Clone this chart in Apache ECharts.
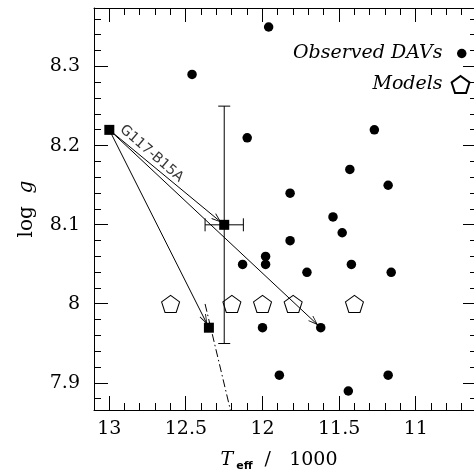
<!DOCTYPE html>
<html>
<head>
<meta charset="utf-8">
<script src="https://cdn.jsdelivr.net/npm/echarts@6/dist/echarts.min.js"></script>
<style>
  html, body { margin: 0; padding: 0; background: #fff; }
  #chart { width: 474px; height: 472px; }
</style>
</head>
<body>
<div id="chart"></div>
<script>
// Observed DAVs: effective temperature (in 1000 K) and surface gravity
const davTeff = [11.96, 12.46, 12.10, 11.27, 11.43, 11.18, 11.82, 11.54, 11.48, 11.82, 11.98,
                 11.98, 12.13, 11.42, 11.71, 11.16, 12.00, 11.62, 11.89, 11.18, 11.44];
const davLogg = [8.35, 8.29, 8.21, 8.22, 8.17, 8.15, 8.14, 8.11, 8.09, 8.08, 8.06,
                 8.05, 8.05, 8.05, 8.04, 8.04, 7.97, 7.97, 7.91, 7.91, 7.89];

// Model grid
const modelTeff = [12.6, 12.2, 12.0, 11.8, 11.4];
const modelLogg = [8.0, 8.0, 8.0, 8.0, 8.0];

// G117-B15A: starting solution and the two revised fits
const g117Teff = [13.0, 12.25, 12.35];
const g117Logg = [8.22, 8.10, 7.97];

// Arrows run from the starting solution to these points
const arrowToTeff = [12.25, 12.35, 11.62];
const arrowToLogg = [8.10, 7.97, 7.97];

// Error bars on the spectroscopic value
const errTeff = [12.375, 12.125];
const errLogg = [7.95, 8.25];

// Dash-dot track through the lower fit
const trackTeff = [12.375, 12.19];
const trackLogg = [8.0, 7.85];

// Axis ticks
const xMajor = [13, 12.5, 12, 11.5, 11];
const xMinor = [13.0, 12.9, 12.8, 12.7, 12.6, 12.5, 12.4, 12.3, 12.2, 12.1, 12.0, 11.9, 11.8,
                11.7, 11.6, 11.5, 11.4, 11.3, 11.2, 11.1, 11.0, 10.9, 10.8, 10.7];
const yMajor = [7.9, 8.0, 8.1, 8.2, 8.3];
const yMinor = [7.88, 7.90, 7.92, 7.94, 7.96, 7.98, 8.00, 8.02, 8.04, 8.06, 8.08, 8.10, 8.12,
                8.14, 8.16, 8.18, 8.20, 8.22, 8.24, 8.26, 8.28, 8.30, 8.32, 8.34, 8.36];

const X_MIN = 10.6, X_MAX = 13.1;
const Y_MIN = 7.866, Y_MAX = 8.374;
const MAJOR_LEN = 14, MINOR_LEN = 7;

const SERIF = 'DejaVu Serif';
const black = '#000';
const pentagon = 'path://M0,-1 L0.951,-0.309 L0.588,0.809 L-0.588,0.809 L-0.951,-0.309 Z';
// open arrowhead pointing up, tip 4px behind the symbol centre
const arrowHead = 'path://M-14,-18 M14,10 M0,0 L3.5,10 L2.8,10.5 L0,2.4 L-2.8,10.5 L-3.5,10 Z';

const zip = (a, b) => a.map((v, i) => [v, b[i]]);
const lineStl = { color: black, width: 1 };
const crisp = v => Math.round(v - 0.5) + 0.5;

// error bars plus the inward tick marks on all four sides of the frame,
// every position taken from the axes' scales
function renderErrorAndTicks(params, api) {
  const st = { stroke: black, lineWidth: 1, fill: null };
  const seg = (x1, y1, x2, y2) => ({ type: 'line', shape: { x1, y1, x2, y2 }, style: st });
  const t0 = api.value(0), g0 = api.value(1);
  const children = [];

  const top = api.coord([t0, api.value(5)]);
  const bot = api.coord([t0, api.value(4)]);
  const lft = api.coord([api.value(2), g0]);
  const rgt = api.coord([api.value(3), g0]);
  children.push(
    seg(top[0], top[1], bot[0], bot[1]),
    seg(top[0] - 6, top[1], top[0] + 6, top[1]),
    seg(bot[0] - 6, bot[1], bot[0] + 6, bot[1]),
    seg(lft[0], lft[1], rgt[0], rgt[1]),
    seg(lft[0], lft[1] - 6.5, lft[0], lft[1] + 6.5),
    seg(rgt[0], rgt[1] - 6.5, rgt[0], rgt[1] + 6.5)
  );

  const frameLeft = api.coord([X_MAX, g0])[0];
  const frameRight = api.coord([X_MIN, g0])[0];
  const frameTop = api.coord([t0, Y_MAX])[1];
  const frameBottom = api.coord([t0, Y_MIN])[1];
  const xTick = (v, len) => {
    const x = crisp(api.coord([v, g0])[0]);
    children.push(seg(x, frameBottom, x, frameBottom - len));
    children.push(seg(x, frameTop, x, frameTop + len));
  };
  const yTick = (v, len) => {
    const y = crisp(api.coord([t0, v])[1]);
    children.push(seg(frameLeft, y, frameLeft + len, y));
    children.push(seg(frameRight, y, frameRight - len, y));
  };
  xMinor.forEach(v => xTick(v, MINOR_LEN));
  xMajor.forEach(v => xTick(v, MAJOR_LEN));
  yMinor.forEach(v => yTick(v, MINOR_LEN));
  yMajor.forEach(v => yTick(v, MAJOR_LEN));
  return { type: 'group', children };
}

const chart = echarts.init(document.getElementById('chart'), null, { renderer: 'canvas' });

chart.setOption({
  animation: false,
  backgroundColor: '#fff',
  grid: { left: 94, top: 8, width: 383, height: 402, outerBoundsMode: 'none', containLabel: false },
  xAxis: [
    {
      type: 'value', position: 'bottom', min: X_MIN, max: X_MAX, inverse: true,
      axisLine: { show: true, onZero: false, lineStyle: lineStl },
      axisTick: { show: false },
      axisLabel: { show: true, customValues: xMajor, margin: 10, color: black,
                   fontFamily: SERIF, fontSize: 19, formatter: v => String(v) },
      splitLine: { show: false },
      name: '{i|T}{s|eff}{r|  /   1000}',
      nameLocation: 'middle',
      nameGap: 40,
      nameTextStyle: {
        padding: [0, 13, 0, 0],
        rich: {
          i: { fontFamily: SERIF, fontStyle: 'italic', fontSize: 19, color: black, lineHeight: 20 },
          s: { fontFamily: 'DejaVu Sans', fontWeight: 'bold', fontSize: 11, color: black,
               lineHeight: 12, padding: [12, 0, 0, 3] },
          r: { fontFamily: SERIF, fontSize: 19, color: black, lineHeight: 20 }
        }
      }
    },
    {
      type: 'value', position: 'top', min: X_MIN, max: X_MAX, inverse: true,
      axisLine: { show: true, onZero: false, lineStyle: lineStl },
      axisTick: { show: false },
      axisLabel: { show: false },
      splitLine: { show: false }
    }
  ],
  yAxis: [
    {
      type: 'value', position: 'left', min: Y_MIN, max: Y_MAX,
      axisLine: { show: true, onZero: false, lineStyle: lineStl },
      axisTick: { show: false },
      axisLabel: { show: true, customValues: yMajor, margin: 14, color: black,
                   fontFamily: SERIF, fontSize: 19, formatter: v => String(v) },
      splitLine: { show: false },
      name: '{r|log\u00a0\u00a0}{i|g}',
      nameLocation: 'middle',
      nameRotate: 90,
      nameGap: 57,
      nameTextStyle: {
        rich: {
          r: { fontFamily: SERIF, fontSize: 20, color: black, lineHeight: 20 },
          i: { fontFamily: SERIF, fontStyle: 'italic', fontSize: 20, color: black, lineHeight: 20 }
        }
      }
    },
    {
      type: 'value', position: 'right', min: Y_MIN, max: Y_MAX,
      axisLine: { show: true, onZero: false, lineStyle: lineStl },
      axisTick: { show: false },
      axisLabel: { show: false },
      splitLine: { show: false }
    }
  ],
  legend: [
    {
      data: ['Observed DAVs'], right: 7.5, top: 44, padding: 0, align: 'right',
      itemWidth: 28.5, itemHeight: 9.5, selectedMode: false,
      textStyle: { fontFamily: SERIF, fontStyle: 'italic', fontSize: 19, color: black, lineHeight: 18 }
    },
    {
      data: ['Models'], right: 3.5, top: 75, padding: 0, align: 'right',
      itemWidth: 26, itemHeight: 17, selectedMode: false,
      textStyle: { fontFamily: SERIF, fontStyle: 'italic', fontSize: 19, color: black, lineHeight: 18 }
    }
  ],
  series: [
    {
      name: 'track',
      type: 'line',
      data: zip(trackTeff, trackLogg),
      showSymbol: false,
      symbol: 'none',
      clip: true,
      lineStyle: { color: black, width: 1, type: [8, 3, 1.5, 3] },
      silent: true,
      z: 1
    },
    {
      name: 'arrows',
      type: 'lines',
      coordinateSystem: 'cartesian2d',
      symbol: ['none', arrowHead],
      symbolSize: 28,
      lineStyle: { color: black, width: 1, opacity: 1, curveness: 0 },
      data: arrowToTeff.map((t, i) => ({
        coords: [[g117Teff[0], g117Logg[0]], [t, arrowToLogg[i]]]
      })),
      silent: true,
      z: 2
    },
    {
      name: 'error',
      type: 'custom',
      data: [[g117Teff[1], g117Logg[1], errTeff[0], errTeff[1], errLogg[0], errLogg[1]]],
      renderItem: renderErrorAndTicks,
      silent: true,
      z: 3
    },
    {
      name: 'Models',
      type: 'scatter',
      data: zip(modelTeff, modelLogg),
      symbol: pentagon,
      symbolSize: [18, 17],
      itemStyle: { color: 'rgba(0,0,0,0)', borderColor: black, borderWidth: 1, opacity: 1 },
      silent: true,
      z: 4
    },
    {
      name: 'Observed DAVs',
      type: 'scatter',
      data: zip(davTeff, davLogg),
      symbol: 'circle',
      symbolSize: 9.5,
      itemStyle: { color: black, opacity: 1 },
      silent: true,
      z: 5
    },
    {
      name: 'G117-B15A',
      type: 'scatter',
      data: zip(g117Teff, g117Logg),
      symbol: 'rect',
      symbolSize: 10,
      itemStyle: { color: black, opacity: 1 },
      silent: true,
      z: 6
    },
    {
      name: 'G117-B15A label',
      type: 'scatter',
      data: [[12.725, 8.19]],
      symbol: 'circle',
      symbolSize: 0,
      itemStyle: { color: 'rgba(0,0,0,0)' },
      label: {
        show: true, position: 'inside', formatter: 'G117-B15A', rotate: -41,
        fontFamily: 'DejaVu Sans', fontSize: 14, color: black
      },
      silent: true,
      z: 6
    }
  ]
});
</script>
</body>
</html>
